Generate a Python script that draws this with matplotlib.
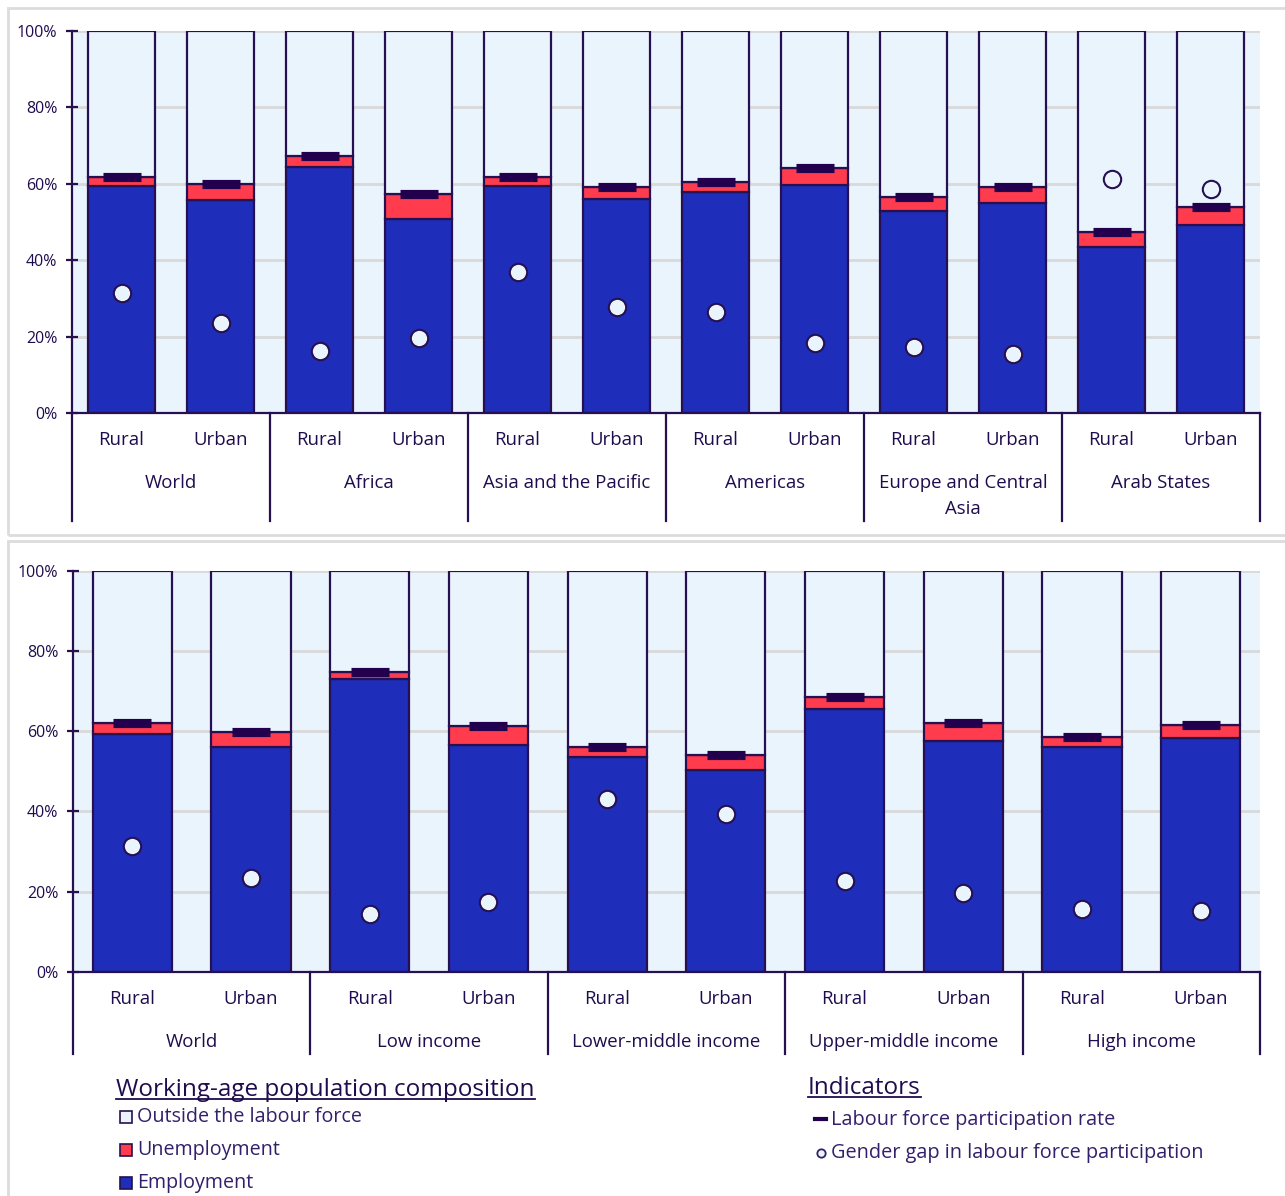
import matplotlib
matplotlib.use("Agg")
import matplotlib.pyplot as plt
from matplotlib.patches import Rectangle
from matplotlib.lines import Line2D

plt.rcParams['font.family'] = ['Open Sans', 'DejaVu Sans']

# ---------------- data ----------------
area_labels = ["Rural", "Urban"]

top_groups = ["World", "Africa", "Asia and the Pacific", "Americas",
              "Europe and Central\nAsia", "Arab States"]
top_emp = [59.3, 55.7, 64.4, 50.8, 59.3, 55.9, 57.7, 59.7, 52.9, 54.9, 43.3, 49.3]
top_lfpr = [61.8, 59.8, 67.3, 57.4, 61.8, 59.1, 60.5, 64.1, 56.5, 59.1, 47.3, 53.9]
top_gap = [31.3, 23.5, 16.2, 19.7, 36.9, 27.8, 26.3, 18.2, 17.3, 15.4, 61.1, 58.5]

bot_groups = ["World", "Low income", "Lower-middle income",
              "Upper-middle income", "High income"]
bot_emp = [59.4, 56.0, 72.9, 56.5, 53.6, 50.4, 65.4, 57.6, 56.0, 58.4]
bot_lfpr = [61.9, 59.8, 74.7, 61.3, 56.1, 54.1, 68.5, 62.1, 58.5, 61.4]
bot_gap = [31.4, 23.5, 14.4, 17.4, 43.0, 39.3, 22.6, 19.8, 15.7, 15.2]

yticks = [0, 20, 40, 60, 80, 100]
ytick_labels = ["0%", "20%", "40%", "60%", "80%", "100%"]

legend_comp_title = "Working-age population composition"
legend_comp = ["Outside the labour force", "Unemployment", "Employment"]
legend_ind_title = "Indicators"
legend_ind = ["Labour force participation rate", "Gender gap in labour force participation"]

# ---------------- style ----------------
C_OUT = "#EAF4FC"
C_UNEMP = "#FF3B4E"
C_EMP = "#1F2DBB"
C_EDGE = "#26104F"
C_MARK = "#22004E"
C_TEXT = "#1F0C4E"
C_TEXT2 = "#33206A"
C_GRID = "#D9D9D9"
C_PANEL = "#DCDCDC"

W, H = 1285, 1196
fig = plt.figure(figsize=(W / 100, H / 100), dpi=100)


def fx(x):
    return x / W


def fy(y):
    return 1 - y / H


# panel frames
fig.patches.append(Rectangle((fx(8), fy(535)), fx(1300) - fx(8), fy(8) - fy(535),
                             transform=fig.transFigure, facecolor="none",
                             edgecolor=C_PANEL, lw=2, zorder=0))
fig.patches.append(Rectangle((fx(8), fy(1210)), fx(1300) - fx(8), fy(541) - fy(1210),
                             transform=fig.transFigure, facecolor="none",
                             edgecolor=C_PANEL, lw=2, zorder=0))


def draw_panel(rect, groups, emp, lfpr, gap, sep_bottom_px, lab1_px, lab2_px, zero_px, hundred_px):
    ax = fig.add_axes(rect)
    n = len(emp)
    xs = list(range(n))
    unemp = [l - e for l, e in zip(lfpr, emp)]
    outside = [100 - l for l in lfpr]
    bw = 0.667
    ax.bar(xs, emp, width=bw, color=C_EMP, edgecolor=C_EDGE, lw=1.6, zorder=3)
    ax.bar(xs, unemp, bottom=emp, width=bw, color=C_UNEMP, edgecolor=C_EDGE, lw=1.6, zorder=3)
    ax.bar(xs, outside, bottom=lfpr, width=bw, color=C_OUT, edgecolor=C_EDGE, lw=1.6, zorder=3)
    ax.plot(xs, lfpr, ls="none", marker="_", ms=28, mew=6.6, color=C_MARK, zorder=5)
    ax.plot(xs, gap, ls="none", marker="o", ms=12.5, mfc=C_OUT, mec=C_EDGE, mew=1.5, zorder=6)

    ax.set_xlim(-0.5, n - 0.5)
    ax.set_ylim(0, 100)
    ax.set_facecolor(C_OUT)
    ax.set_yticks(yticks)
    ax.set_yticklabels(ytick_labels)
    ax.yaxis.grid(True, color=C_GRID, lw=2, zorder=0)
    ax.set_axisbelow(True)
    ax.tick_params(axis="y", direction="inout", length=9, width=1.6, color=C_EDGE,
                   labelcolor=C_TEXT, labelsize=11.5, pad=6)
    ax.set_xticks([])
    for s in ["top", "right"]:
        ax.spines[s].set_visible(False)
    ax.spines["left"].set_color(C_EDGE)
    ax.spines["left"].set_linewidth(1.6)
    ax.spines["bottom"].set_color(C_EDGE)
    ax.spines["bottom"].set_linewidth(1.6)
    ax.spines["bottom"].set_zorder(7)

    pxh = zero_px - hundred_px
    trans = ax.get_xaxis_transform()
    ysep = -(sep_bottom_px - zero_px) / pxh
    y1 = -(lab1_px - zero_px) / pxh
    y2 = -(lab2_px - zero_px) / pxh
    ng = len(groups)
    for k in range(ng + 1):
        ax.add_line(Line2D([-0.5 + 2 * k] * 2, [0, ysep], transform=trans,
                           color=C_EDGE, lw=1.6, clip_on=False))
    for i in xs:
        ax.text(i, y1, area_labels[i % 2], transform=trans, ha="center", va="center",
                fontsize=13.4, color=C_TEXT)
    for g, name in enumerate(groups):
        ax.text(2 * g + 0.5, y2, name, transform=trans, ha="center", va="top",
                fontsize=13.4, color=C_TEXT, linespacing=1.6)
    return ax


# top panel: x 72..1260, 0% at y=413, 100% at y=30.7
draw_panel([fx(72), fy(413), fx(1260) - fx(72), fy(30.7) - fy(413)],
           top_groups, top_emp, top_lfpr, top_gap, 521, 440, 474, 413, 30.7)
# bottom panel: x 73..1260, 0% at 972, 100% at 570.5
draw_panel([fx(73), fy(972), fx(1260) - fx(73), fy(570.5) - fy(972)],
           bot_groups, bot_emp, bot_lfpr, bot_gap, 1054, 999, 1033, 972, 570.5)

# ---------------- legends ----------------
fig.canvas.draw()
renderer = fig.canvas.get_renderer()


def underlined(x, y, s, size):
    t = fig.text(fx(x), fy(y), s, fontsize=size, color=C_TEXT, ha="left", va="baseline")
    bb = t.get_window_extent(renderer)
    yline = (H - y) - 3
    fig.add_artist(Line2D([bb.x0 / W, bb.x1 / W], [yline / H, yline / H],
                          transform=fig.transFigure, color=C_TEXT, lw=1.3))


underlined(116, 1096, legend_comp_title, 17.5)
underlined(808, 1094, legend_ind_title, 17.5)

comp_colors = [C_OUT, C_UNEMP, C_EMP]
comp_y = [1117, 1150, 1183]
for lab, col, yy in zip(legend_comp, comp_colors, comp_y):
    fig.patches.append(Rectangle((fx(120), fy(yy + 6)), 12 / W, 12 / H, transform=fig.transFigure,
                                 facecolor=col, edgecolor=C_EDGE, lw=1.2))
    fig.text(fx(137), fy(yy), lab, fontsize=14.2, color=C_TEXT2, ha="left", va="center")

fig.add_artist(Line2D([fx(815), fx(826)], [fy(1119), fy(1119)], transform=fig.transFigure,
                      color=C_MARK, lw=3))
fig.text(fx(831), fy(1120), legend_ind[0], fontsize=14.3, color=C_TEXT2, ha="left", va="center")
fig.add_artist(Line2D([fx(821)], [fy(1153)], transform=fig.transFigure, marker="o", ms=6,
                      mfc=C_OUT, mec=C_TEXT2, mew=1.3, ls="none"))
fig.text(fx(831), fy(1153), legend_ind[1], fontsize=14.3, color=C_TEXT2, ha="left", va="center")

fig.savefig("out.png", dpi=100, facecolor="white")
